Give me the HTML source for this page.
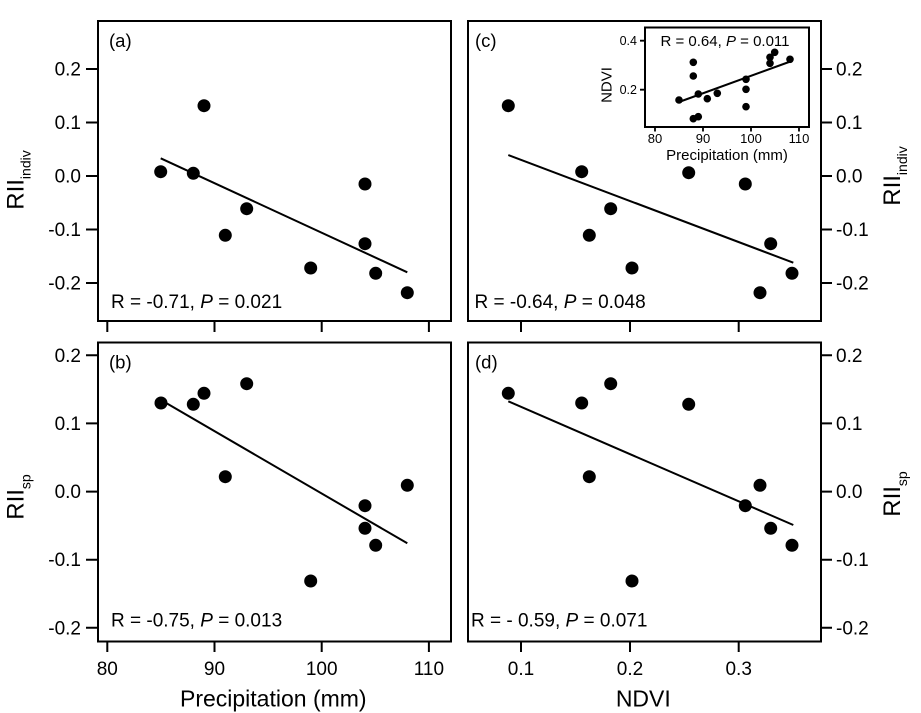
<!DOCTYPE html>
<html><head><meta charset="utf-8"><style>
html,body{margin:0;padding:0;background:#fff;}
svg{display:block;}
text{font-family:"Liberation Sans",Arial,sans-serif;fill:#000;}
</style></head><body>
<svg width="921" height="713" viewBox="0 0 921 713" xmlns="http://www.w3.org/2000/svg">
<rect x="0" y="0" width="921" height="713" fill="#fff"/>
<g fill="none" stroke="#000" stroke-width="2">
<rect x="98" y="21" width="353" height="300"/>
<rect x="98" y="342.5" width="353" height="299"/>
<rect x="468" y="21" width="353" height="300"/>
<rect x="468" y="342.5" width="353" height="299"/>
<path d="M86 69H97M86 122.5H97M86 176H97M86 229.5H97M86 283H97"/>
<path d="M86 355.3H97M86 423.4H97M86 491.6H97M86 559.7H97M86 627.8H97"/>
<path d="M822 69H832M822 122.5H832M822 176H832M822 229.5H832M822 283H832"/>
<path d="M822 355.3H832M822 423.4H832M822 491.6H832M822 559.7H832M822 627.8H832"/>
<path d="M107.3 321V332M214.5 321V332M321.7 321V332M428.9 321V332"/>
<path d="M521 321V332M630 321V332M738.7 321V332"/>
<path d="M107.3 641.5V652M214.5 641.5V652M321.7 641.5V652M428.9 641.5V652"/>
<path d="M521 641.5V652M630 641.5V652M738.7 641.5V652"/>
<line x1="160.7" y1="158.3" x2="407.3" y2="272.3"/>
<line x1="161" y1="400" x2="407.3" y2="543.3"/>
<line x1="508.3" y1="155" x2="793.3" y2="262.7"/>
<line x1="508.3" y1="401.3" x2="793.3" y2="525"/>
</g>
<g fill="#000">
<circle cx="160.7" cy="171.7" r="6.5"/><circle cx="204" cy="105.7" r="6.5"/><circle cx="193.3" cy="173.3" r="6.5"/><circle cx="246.7" cy="208.7" r="6.5"/><circle cx="225.3" cy="235.3" r="6.5"/><circle cx="310.7" cy="268" r="6.5"/><circle cx="365" cy="184" r="6.5"/><circle cx="365" cy="243.7" r="6.5"/><circle cx="375.7" cy="273.3" r="6.5"/><circle cx="407.3" cy="292.7" r="6.5"/>
<circle cx="161" cy="403" r="6.5"/><circle cx="193.3" cy="404.3" r="6.5"/><circle cx="204" cy="393.3" r="6.5"/><circle cx="246.7" cy="383.7" r="6.5"/><circle cx="225.3" cy="476.7" r="6.5"/><circle cx="310.7" cy="581" r="6.5"/><circle cx="365" cy="505.7" r="6.5"/><circle cx="365" cy="528.3" r="6.5"/><circle cx="375.7" cy="545.3" r="6.5"/><circle cx="407.3" cy="485.3" r="6.5"/>
<circle cx="508.3" cy="105.7" r="6.5"/><circle cx="581.7" cy="171.7" r="6.5"/><circle cx="688.7" cy="172.7" r="6.5"/><circle cx="745.3" cy="184" r="6.5"/><circle cx="610.7" cy="208.7" r="6.5"/><circle cx="589.3" cy="235.3" r="6.5"/><circle cx="632" cy="268" r="6.5"/><circle cx="770.7" cy="243.7" r="6.5"/><circle cx="792" cy="273.3" r="6.5"/><circle cx="760" cy="292.7" r="6.5"/>
<circle cx="508.3" cy="393.3" r="6.5"/><circle cx="581.7" cy="403" r="6.5"/><circle cx="610.7" cy="383.7" r="6.5"/><circle cx="688.7" cy="404.3" r="6.5"/><circle cx="589.3" cy="476.7" r="6.5"/><circle cx="760" cy="485.3" r="6.5"/><circle cx="745.3" cy="505.7" r="6.5"/><circle cx="770.7" cy="528.3" r="6.5"/><circle cx="792" cy="545.3" r="6.5"/><circle cx="632" cy="581" r="6.5"/>
</g>
<rect x="645" y="27.5" width="164" height="99.5" fill="#fff" stroke="#000" stroke-width="2"/>
<g fill="none" stroke="#000" stroke-width="1.8">
<path d="M640 40.7H645M640 89.7H645"/>
<path d="M655 127V131.5M703 127V131.5M751 127V131.5M799 127V131.5"/>
<line x1="679" y1="102" x2="789" y2="62" stroke-width="2"/>
</g>
<g fill="#000">
<circle cx="679" cy="100" r="3.8"/><circle cx="693.3" cy="62.3" r="3.8"/><circle cx="693.3" cy="76" r="3.8"/><circle cx="693.3" cy="118.7" r="3.8"/><circle cx="698.3" cy="116.7" r="3.8"/><circle cx="698.3" cy="94" r="3.8"/><circle cx="707.3" cy="98.7" r="3.8"/><circle cx="717.3" cy="93.3" r="3.8"/><circle cx="746" cy="79.3" r="3.8"/><circle cx="746" cy="89.3" r="3.8"/><circle cx="746" cy="106.7" r="3.8"/><circle cx="770" cy="57.3" r="3.8"/><circle cx="770" cy="63.3" r="3.8"/><circle cx="774.7" cy="52.3" r="3.8"/><circle cx="790" cy="59.3" r="3.8"/>
</g>
<g font-size="12.5">
<text x="637" y="45" text-anchor="end">0.4</text>
<text x="637" y="94" text-anchor="end">0.2</text>
</g>
<g font-size="13">
<text x="655" y="143" text-anchor="middle">80</text>
<text x="703" y="143" text-anchor="middle">90</text>
<text x="751" y="143" text-anchor="middle">100</text>
<text x="799" y="143" text-anchor="middle">110</text>
</g>
<text x="727" y="160" font-size="15" text-anchor="middle">Precipitation (mm)</text>
<text transform="translate(611.5,85) rotate(-90)" font-size="15" text-anchor="middle">NDVI</text>
<text x="725" y="46" font-size="15" text-anchor="middle">R = 0.64, <tspan font-style="italic">P</tspan> = 0.011</text>

<g font-size="19">
<text x="81" y="75.5" text-anchor="end">0.2</text>
<text x="81" y="129" text-anchor="end">0.1</text>
<text x="81" y="182.5" text-anchor="end">0.0</text>
<text x="81" y="236" text-anchor="end">-0.1</text>
<text x="81" y="289.5" text-anchor="end">-0.2</text>
<text x="81" y="361.8" text-anchor="end">0.2</text>
<text x="81" y="429.9" text-anchor="end">0.1</text>
<text x="81" y="498.1" text-anchor="end">0.0</text>
<text x="81" y="566.2" text-anchor="end">-0.1</text>
<text x="81" y="634.3" text-anchor="end">-0.2</text>
<text x="836" y="75.5">0.2</text>
<text x="836" y="129">0.1</text>
<text x="836" y="182.5">0.0</text>
<text x="836" y="236">-0.1</text>
<text x="836" y="289.5">-0.2</text>
<text x="836" y="361.8">0.2</text>
<text x="836" y="429.9">0.1</text>
<text x="836" y="498.1">0.0</text>
<text x="836" y="566.2">-0.1</text>
<text x="836" y="634.3">-0.2</text>
<text x="107.3" y="675" text-anchor="middle">80</text>
<text x="214.5" y="675" text-anchor="middle">90</text>
<text x="321.7" y="675" text-anchor="middle">100</text>
<text x="428.9" y="675" text-anchor="middle">110</text>
<text x="521" y="675" text-anchor="middle">0.1</text>
<text x="630" y="675" text-anchor="middle">0.2</text>
<text x="738.7" y="675" text-anchor="middle">0.3</text>
<text x="111" y="308">R = -0.71, <tspan font-style="italic">P</tspan> = 0.021</text>
<text x="111" y="626.5">R = -0.75, <tspan font-style="italic">P</tspan> = 0.013</text>
<text x="474.5" y="308">R = -0.64, <tspan font-style="italic">P</tspan> = 0.048</text>
<text x="471" y="626.5">R = - 0.59, <tspan font-style="italic">P</tspan> = 0.071</text>
</g>
<g font-size="18.5">
<text x="109" y="47">(a)</text>
<text x="109" y="368.5">(b)</text>
<text x="475" y="47">(c)</text>
<text x="475" y="368.5">(d)</text>
</g>
<text x="273.3" y="706.5" font-size="23" text-anchor="middle">Precipitation (mm)</text>
<text x="643.3" y="706.5" font-size="23" text-anchor="middle">NDVI</text>
<text transform="translate(23.5,180) rotate(-90)" font-size="24" text-anchor="middle">RII<tspan font-size="14" dy="7">indiv</tspan></text>
<text transform="translate(23.5,497) rotate(-90)" font-size="24" text-anchor="middle">RII<tspan font-size="14" dy="7">sp</tspan></text>
<text transform="translate(900,176) rotate(-90)" font-size="24" text-anchor="middle">RII<tspan font-size="14" dy="7">indiv</tspan></text>
<text transform="translate(900,494) rotate(-90)" font-size="24" text-anchor="middle">RII<tspan font-size="14" dy="7">sp</tspan></text>
</svg>
</body></html>
